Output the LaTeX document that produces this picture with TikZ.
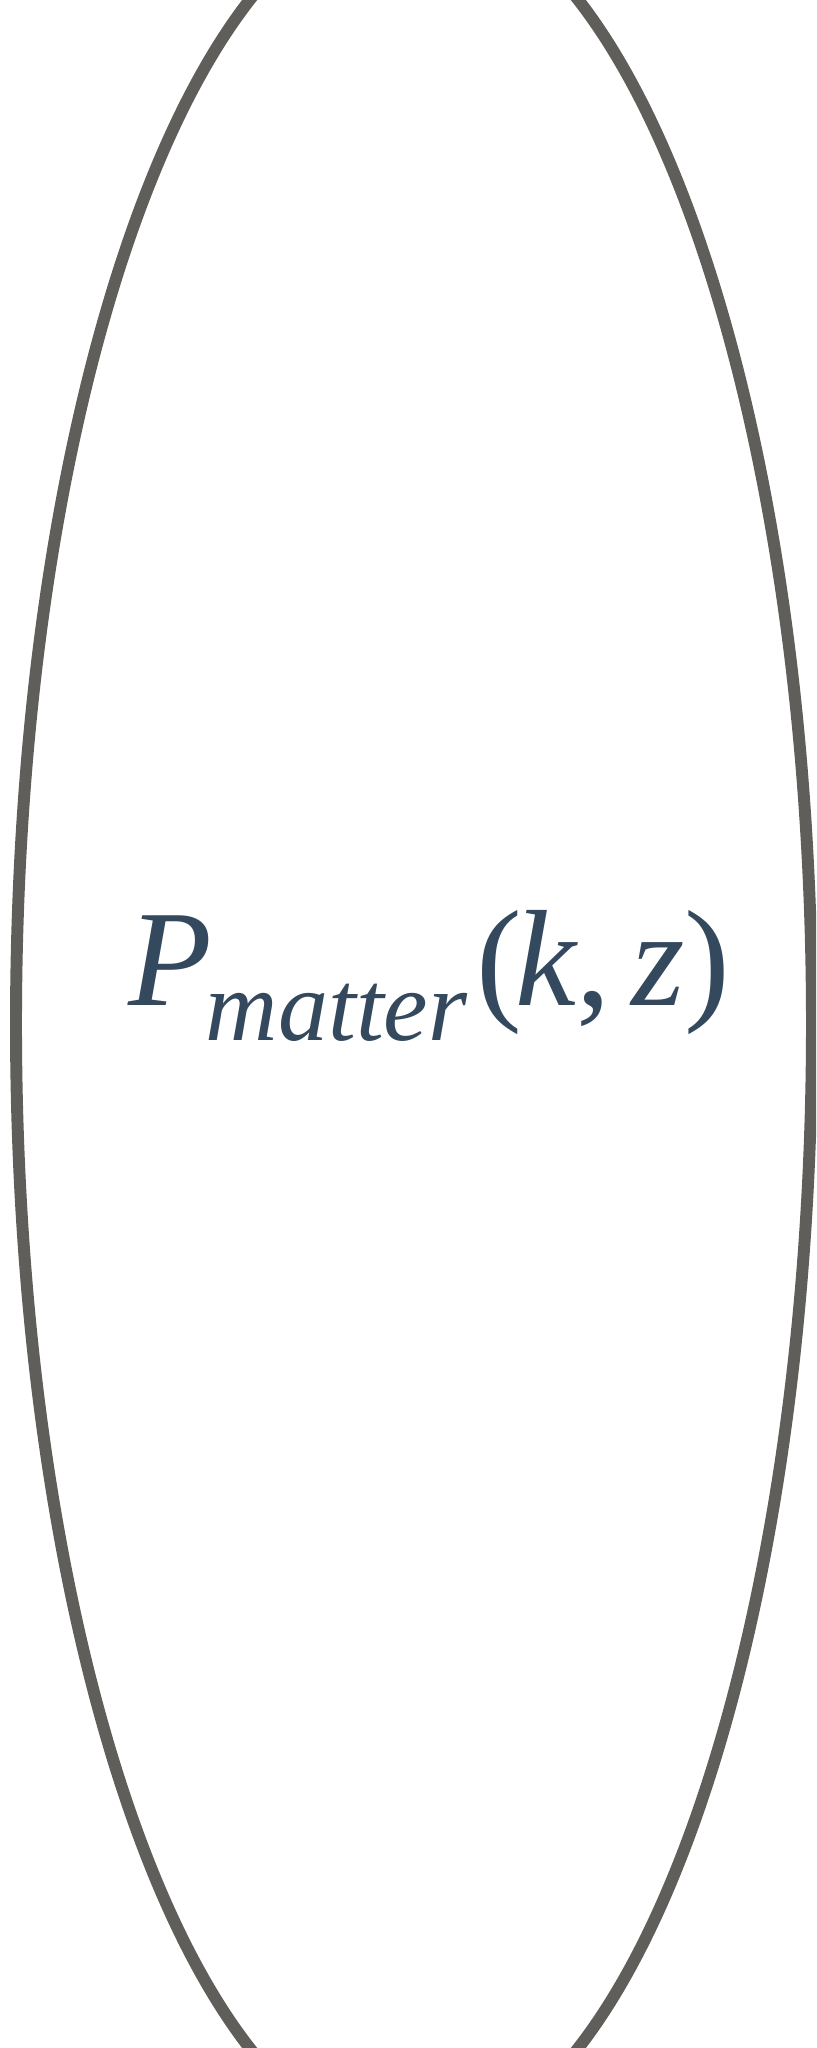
\documentclass[tikz,border=0pt]{standalone}
\usepackage{fontspec}
\setmainfont{Liberation Serif}
\usetikzlibrary{positioning}
\definecolor{ink} {HTML}{34495E}
\definecolor{rim} {HTML}{5F5E5A}
\tikzset{
  % --- shapes
  rimline/.style = {draw=rim, line width=3.4pt},
  % --- text
  lbl/.style     = {text=ink, inner sep=0pt, font=\fontsize{39}{47}\selectfont},
}
\begin{document}
\begin{tikzpicture}
  \useasboundingbox (0,0) rectangle (8.16,20.48);
  \clip (0,0) rectangle (8.16,20.48);
  % outer ellipse, cut by the page
  \draw[rimline] (4.14,10.24) ellipse [x radius=3.98cm, y radius=11.24cm];
  \node[lbl, anchor=base west] (pmatter) at (1.28,10.42)
    {\textit{P}\kern-1.9pt\raisebox{-9.7pt}{\fontsize{28.5}{34}\selectfont\textit{matter}}\kern2.6pt(\kern-2pt\textit{k},\kern6pt\textit{z})};
\end{tikzpicture}
\end{document}
